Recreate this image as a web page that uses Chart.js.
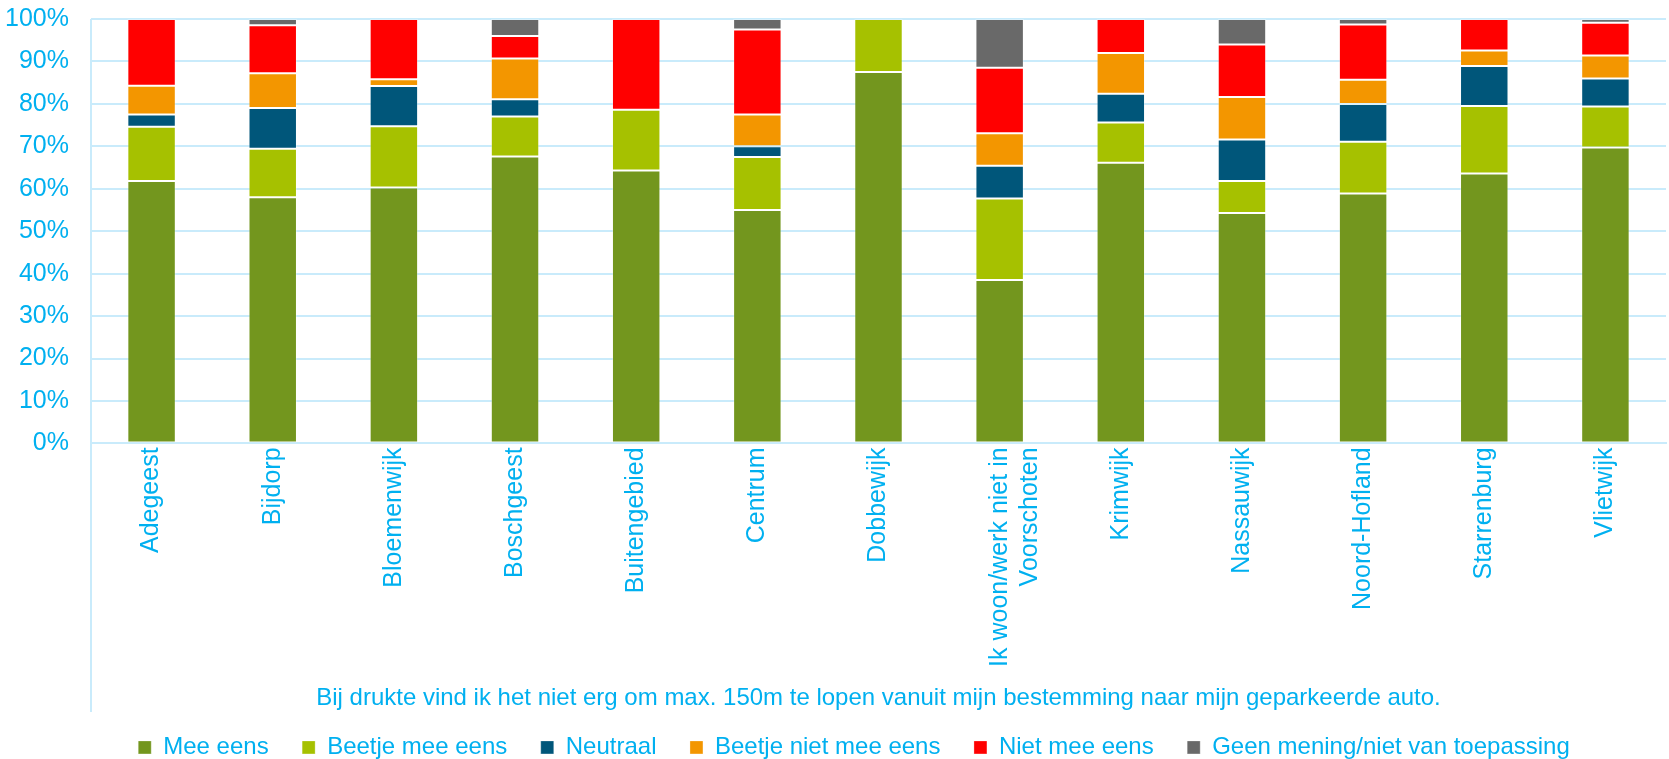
<!DOCTYPE html>
<html>
<head>
<meta charset="utf-8">
<script src="https://cdn.jsdelivr.net/npm/chart.js@4/dist/chart.umd.min.js"></script>
<style>
  html, body { margin: 0; padding: 0; background: #ffffff; }
  #wrap { width: 1669px; height: 759px; position: relative; }
</style>
</head>
<body>
<div id="wrap"><canvas id="c" width="1669" height="759"></canvas></div>
<script>
const categories = [
  'Adegeest', 'Bijdorp', 'Bloemenwijk', 'Boschgeest', 'Buitengebied', 'Centrum',
  'Dobbewijk', ['Ik woon/werk niet in', 'Voorschoten'], 'Krimwijk', 'Nassauwijk',
  'Noord-Hofland', 'Starrenburg', 'Vlietwijk'
];
const meeEens         = [61.8, 58.0, 60.3, 67.6, 64.3, 55.0, 87.5, 38.5, 66.1, 54.3, 58.9, 63.6, 69.7];
const beetjeMeeEens   = [12.8, 11.4, 14.4,  9.4, 14.3, 12.5, 12.5, 19.2,  9.5,  7.5, 12.2, 15.9,  9.7];
const neutraal        = [ 2.9,  9.6,  9.5,  4.1,  0.0,  2.5,  0.0,  7.7,  6.8,  9.8,  8.9,  9.4,  6.6];
const beetjeNietEens  = [ 6.8,  8.2,  1.6,  9.6,  0.0,  7.5,  0.0,  7.7,  9.6, 10.0,  5.7,  3.7,  5.4];
const nietMeeEens     = [15.7, 11.3, 14.2,  5.3, 21.4, 20.0,  0.0, 15.4,  8.0, 12.4, 13.0,  7.4,  7.7];
const geenMening      = [ 0.0,  1.5,  0.0,  4.0,  0.0,  2.5,  0.0, 11.5,  0.0,  6.0,  1.3,  0.0,  0.9];
const seriesNames = ['Mee eens', 'Beetje mee eens', 'Neutraal', 'Beetje niet mee eens', 'Niet mee eens', 'Geen mening/niet van toepassing'];
const yTickLabels = ['0%', '10%', '20%', '30%', '40%', '50%', '60%', '70%', '80%', '90%', '100%'];
const xAxisTitle = 'Bij drukte vind ik het niet erg om max. 150m te lopen vanuit mijn bestemming naar mijn geparkeerde auto.';

const colors = ['#73961E', '#A6C100', '#00567A', '#F39600', '#FF0000', '#696969'];
const seriesValues = [meeEens, beetjeMeeEens, neutraal, beetjeNietEens, nietMeeEens, geenMening];
const TEXT = '#00B0F0';
const GRID = '#C9EBFB';
const FONT = "'Liberation Sans', Arial, sans-serif";
const Y_FONT_SIZE = 25;

// widest y tick label, measured with the same font Chart.js uses
const measureCtx = document.createElement('canvas').getContext('2d');
measureCtx.font = Y_FONT_SIZE + "px " + FONT;
const yLabelWidest = Math.max(...yTickLabels.map(t => measureCtx.measureText(t).width));
const Y_GAP = 22;

const datasets = seriesValues.map((vals, i) => ({
  label: seriesNames[i],
  data: vals,
  backgroundColor: colors[i],
  borderColor: 'rgba(255,255,255,0.3)',
  borderWidth: 1,
  borderSkipped: false,
  categoryPercentage: 0.4,
  barPercentage: 1.0
}));

const axisExtend = {
  id: 'axisExtend',
  afterDraw(chart) {
    const {ctx, scales: {x, y}} = chart;
    ctx.save();
    ctx.strokeStyle = GRID;
    ctx.lineWidth = 2;
    ctx.beginPath();
    ctx.moveTo(x.left, y.top);
    ctx.lineTo(x.left, x.bottom + 10);
    ctx.stroke();
    ctx.restore();
  }
};

new Chart(document.getElementById('c'), {
  type: 'bar',
  data: { labels: categories, datasets },
  plugins: [axisExtend],
  options: {
    responsive: false,
    animation: false,
    devicePixelRatio: 1,
    layout: { padding: { top: 19, left: 42, right: 3, bottom: -10.4 } },
    plugins: {
      legend: {
        position: 'bottom',
        labels: {
          color: TEXT,
          font: { family: FONT, size: 24 },
          boxWidth: 13,
          boxHeight: 13,
          padding: 33.5
        }
      },
      tooltip: { enabled: false }
    },
    scales: {
      x: {
        stacked: true,
        grid: { display: false, drawTicks: false },
        border: { display: true, color: GRID, width: 2 },
        ticks: {
          color: TEXT,
          font: { family: FONT, size: 25 },
          autoSkip: false,
          maxRotation: 90,
          minRotation: 90,
          padding: 4
        },
        title: {
          display: true,
          text: xAxisTitle,
          color: TEXT,
          font: { family: FONT, size: 24 },
          padding: { top: 0, bottom: -10.9 }
        },
        afterFit(scale) { scale.height = 258.5; }
      },
      y: {
        stacked: true,
        min: 0,
        max: 100,
        grid: { color: GRID, lineWidth: 2, drawTicks: false },
        border: { display: false },
        ticks: {
          stepSize: 10,
          color: TEXT,
          font: { family: FONT, size: Y_FONT_SIZE },
          mirror: true,
          crossAlign: 'far',
          padding: -(Y_GAP + yLabelWidest),
          callback: (v, i) => yTickLabels[i]
        },
        afterFit(scale) { scale.width = 49; }
      }
    }
  }
});
</script>
</body>
</html>
